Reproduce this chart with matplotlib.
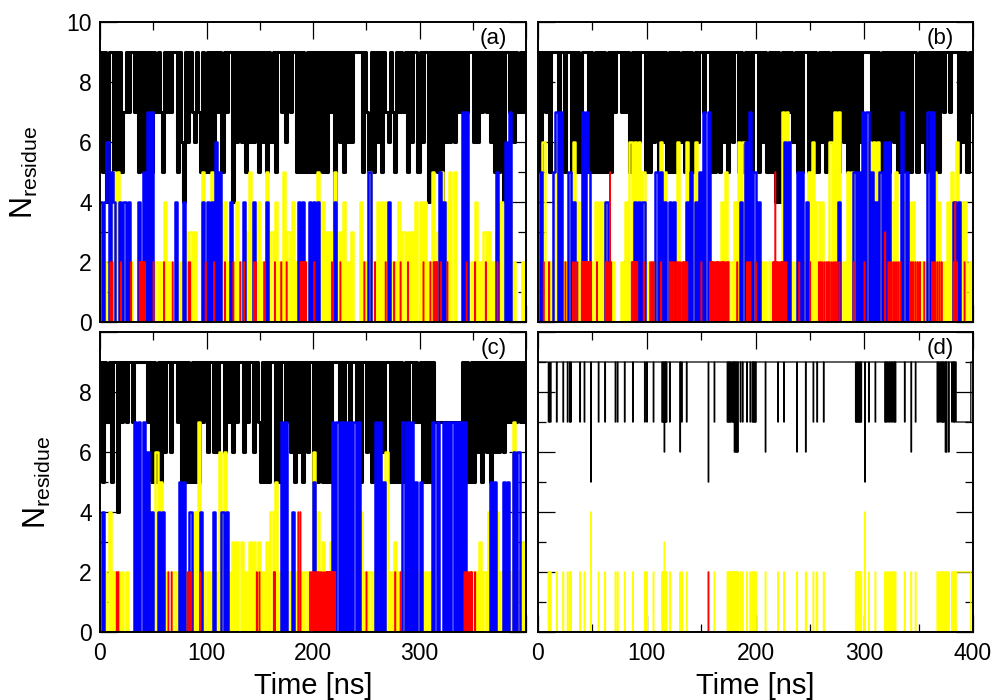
import numpy as np
import matplotlib
matplotlib.use('Agg')
import matplotlib.pyplot as plt
from matplotlib.ticker import MultipleLocator

plt.rcParams['font.family'] = ['Liberation Sans', 'DejaVu Sans']
plt.rcParams['mathtext.fontset'] = 'custom'
plt.rcParams['mathtext.rm'] = 'Liberation Sans'

# one character = one value every 2 ns (black, yellow, blue in panels a-c)
STEP = 2.0

a_black = ("9594995959 5797997959 5959597975 9797995964 9697697595 9595979597 9949696959 "
           "6969596959 6959979697 9959595959 5959595979 0969596969 9995975959 6959769759 "
           "7979596995 9699495959 4969696979 7979969697 9796959594 9979697979")
a_yellow = ("2020205050 2020200020 2020202020 4020002020 3030300050 2050204040 2020402030 "
            "5030402050 3040205030 4020202020 2050403030 5030402030 0040205020 4040402020 "
            "4030303040 4040205030 5040505000 0020204020 3030203040 2040200020")
a_blue = ("4046054004 0404000040 5070700000 0000040004 0000000040 4040605000 0400000400 "
          "0040000040 0000000000 0004040040 4040000000 4000000000 0000005000 0000040000 "
          "0000000000 0000000005 0400000000 7070000000 0000005000 6070000000")

b_black = ("9597959997 9959959595 9995959595 9595979979 7959596995 9596959695 9595969595 "
           "9596997995 9595969596 9959596959 9596959594 9494979695 9599595959 6959695959 "
           "6959595969 9995959595 9596959595 9599596959 5959597997 9995969597")
b_yellow = ("2060202060 2020206040 2020204040 4020200020 4060606050 2020206050 2020602060 "
            "2060402020 2020405020 4060602020 2020202020 2070702020 2020506040 4020607070 "
            "2050502020 2060606020 4040502040 4040202020 5050402040 5060404020")
b_blue = ("0500000570 7000504000 7075000000 0400000000 0000404040 0000505040 4040000040 "
          "5040507070 0000000000 0004060705 0400000000 0006060005 0504000000 0000000040 "
          "0000050507 0705040506 0600000705 0000000007 0700000000 0404000000")

c_black = ("9597959949 7979979999 9979595959 6996997959 5959595979 6996969969 7969799697 "
           "9969759595 9959599796 9596959699 5959595959 9979799799 7959969597 9696995959 "
           "5959799797 9595959777 7777777777 9595959695 9695969696 9797979797")
c_yellow = ("2020402020 2020000000 0050206050 2000202020 2020407020 2020206060 2030303020 "
            "3030302030 4050202020 2020202020 6040302030 0000000000 0040202020 2020602030 "
            "2020202020 2020202000 0000000000 0020202030 2040304020 2020702030")
c_blue = ("0400000000 0000007070 7060400404 0000000505 0040000400 0004000404 0000000000 "
          "0000000000 0000070700 4000000000 5000000007 0707070707 0700000007 0705000000 "
          "0070707050 5000007070 0707070707 0700000000 0005050005 0500606000")

# red is sparse everywhere: times (ns) of short jumps to 2, plus the few higher ones
a_red_t = [9.7, 11.4, 19.5, 29, 37, 38, 39, 40, 41, 42, 50, 60, 68, 83, 84.5, 99, 107, 117,
           125, 131.5, 135, 144.5, 146, 154, 164, 170, 175, 188, 189, 190, 191, 192, 193, 201,
           217.5, 225.6, 248, 258, 268, 276, 282, 289, 303.6, 310, 313, 314, 315.5, 316.5,
           320, 326, 344, 352, 362, 373]
a_red_high = []
b_red_t = [5, 10, 25, 32, 34, 36, 40, 41, 42, 43, 44, 45, 46, 47, 48, 54, 62, 63, 64, 67,
           86, 87, 88, 89, 90, 91, 97, 103, 104.5, 106, 113, 121, 122, 123.5, 125, 127, 128,
           129.5, 131, 133, 134, 135.5, 137, 150, 158, 159, 160, 161, 162.5, 164, 165, 166,
           167.5, 169, 170, 171, 172.5, 174, 175, 183, 192, 193.5, 195, 200, 216, 217, 219,
           220, 221.5, 223, 224, 225, 226.5, 228, 240, 250, 258, 259.5, 261, 263, 265, 266.5,
           268, 270, 272, 273.5, 275, 277, 290, 300, 322, 323.5, 325, 327, 329, 331, 333,
           342, 343.5, 345, 347, 349, 351, 355, 362, 363.5, 365, 367, 369, 371, 382, 385, 392]
b_red_high = [(66, 5), (218, 5), (319, 3), (383.5, 4)]
c_red_t = [15.6, 17, 64, 67, 82, 84, 85.5, 94, 147, 149.5, 163, 164, 197, 198.5, 200, 201,
           202.5, 204, 205, 206.5, 208, 210, 212, 213, 214, 215, 216, 217, 218, 219, 220.5,
           250, 277, 282, 342, 343.5, 345, 346.5, 348, 349, 352]
c_red_high = [(186, 4), (188, 4)]

# panel d is sparse: baseline values plus short excursions (time in ns, value)
d_black_base = 9
d_black_dips = [(9.5, 7), (10.2, 7), (11.0, 7), (11.6, 7), (17, 7), (23, 7), (27, 7), (29, 7),
                (30.2, 7), (38.6, 7), (42.6, 7), (48.5, 5), (55.5, 7), (61.6, 7), (70.8, 7),
                (73, 7), (79.4, 7), (87, 7), (97.8, 7), (100, 7), (106, 7), (114, 7), (115, 7),
                (116, 6), (117, 7), (118, 7), (121, 7), (130.6, 6), (132, 7), (136.7, 7),
                (156.7, 5), (162, 7), (174, 7), (175, 7), (176.2, 7), (177, 7), (178.3, 7),
                (179.5, 7), (180.5, 6), (181.5, 6), (182.5, 6), (183.6, 6), (186, 7), (188, 7),
                (192, 7), (195, 7), (197, 7), (198, 7), (199, 7), (200, 7), (209, 6),
                (220.7, 7), (226, 7), (238, 6), (246, 6), (253, 7), (256.6, 7), (262.7, 7),
                (292, 7), (293, 7), (294, 7), (295, 7), (296, 7), (297, 7), (300.4, 5),
                (304, 7), (310, 7), (319, 7), (320, 7), (321.5, 7), (323, 7), (324.5, 7),
                (326, 7), (327.5, 7), (328.6, 7), (337, 7), (343, 6), (347, 7), (367, 7),
                (368, 7), (369.5, 7), (371, 7), (372, 7), (373, 7), (374.6, 6), (375.6, 6),
                (377.6, 6), (380.7, 7), (382, 7), (383, 7), (384.4, 7)]
d_black_holds = [(385.0, 397.5, 7)]
d_yellow_base = 0
d_yellow_spikes = [(9.5, 2), (10.2, 2), (11.0, 2), (11.6, 2), (17, 2), (23, 2), (27, 2), (29, 2),
                   (30.2, 2), (38.6, 2), (42.6, 2), (48.5, 4), (55.5, 2), (61.6, 2), (70.8, 2),
                   (73, 2), (79.4, 2), (87, 2), (97.8, 2), (100, 2), (106, 2), (114, 2), (115, 2),
                   (116, 3), (117, 2), (118, 2), (121, 2), (130.6, 2), (132, 2), (136.7, 2),
                   (162, 2), (174, 2), (175, 2), (176.2, 2), (177, 2), (178.3, 2),
                   (179.5, 2), (180.5, 2), (181.5, 2), (182.5, 2), (183.6, 2), (186, 2), (188, 2),
                   (192, 2), (195, 2), (197, 2), (198, 2), (199, 2), (200, 2), (209, 2),
                   (220.7, 2), (226, 2), (238, 2), (246, 2), (253, 2), (256.6, 2), (262.7, 2),
                   (292, 2), (293, 2), (294, 2), (295, 2), (296, 2), (297, 2), (300.4, 4),
                   (304, 2), (310, 2), (319, 2), (320, 2), (321.5, 2), (323, 2), (324.5, 2),
                   (326, 2), (327.5, 2), (328.6, 2), (337, 2), (343, 2), (347, 2), (367, 2),
                   (368, 2), (369.5, 2), (371, 2), (372, 2), (373, 2), (374.6, 2), (375.6, 2),
                   (377.6, 2), (380.7, 2), (382, 2), (383, 2), (384.4, 2)]
d_yellow_holds = [(385.0, 397.5, 2)]
d_red_t = [156.7]
d_red_high = []

colors = ['black', '#ffff00', '#0000ff', '#ff0000']
dense_lw = [2.2, 1.8, 1.8, 1.0]
sparse_lw = [0.9, 1.0, 1.0, 1.0]


def from_string(s):
    v = np.array([int(ch) for ch in s.replace(' ', '')], dtype=float)
    t = np.arange(len(v) + 1) * STEP
    return t, np.append(v, v[-1])


t_d = np.arange(0, 400.01, 0.5)


def from_events(base, spikes, holds=()):
    v = np.full(t_d.size, float(base))
    for t0, t1, val in holds:
        v[(t_d >= t0) & (t_d <= t1)] = val
    for t0, val in spikes:
        v[int(round(t0 / 0.5))] = val
    return t_d, v


def red_series(times, high):
    return from_events(0, [(t, 2) for t in times] + list(high))


panels = {
    'a': [from_string(a_black), from_string(a_yellow), from_string(a_blue),
          red_series(a_red_t, a_red_high)],
    'b': [from_string(b_black), from_string(b_yellow), from_string(b_blue),
          red_series(b_red_t, b_red_high)],
    'c': [from_string(c_black), from_string(c_yellow), from_string(c_blue),
          red_series(c_red_t, c_red_high)],
    'd': [from_events(d_black_base, d_black_dips, d_black_holds),
          from_events(d_yellow_base, d_yellow_spikes, d_yellow_holds),
          None,
          red_series(d_red_t, d_red_high)],
}

W, H = 991, 700
rects = {'a': [100, 378, 426, 300], 'b': [538, 378, 435, 300],
         'c': [100, 68, 426, 300], 'd': [538, 68, 435, 300]}

fig = plt.figure(figsize=(W / 100, H / 100), dpi=100)

for key in ['a', 'b', 'c', 'd']:
    x0, y0, w, h = rects[key]
    ax = fig.add_axes([x0 / W, y0 / H, w / W, h / H])
    for z, (series, col) in enumerate(zip(panels[key], colors)):
        if series is None:
            continue
        t, v = series
        lw = sparse_lw[z] if key == 'd' else dense_lw[z]
        ax.plot(t, v, drawstyle='steps-post', color=col, lw=lw, zorder=2 + z * 0.1)

    ax.set_xlim(0, 400)
    ax.set_ylim(0, 10)
    ax.set_axisbelow(True)
    ax.xaxis.set_major_locator(MultipleLocator(100))
    ax.xaxis.set_minor_locator(MultipleLocator(50))
    ax.yaxis.set_major_locator(MultipleLocator(2))
    ax.yaxis.set_minor_locator(MultipleLocator(1))
    ax.tick_params(which='both', direction='in', top=True, right=True, width=0.9,
                   labelsize=16.5)
    ax.tick_params(which='major', length=12)
    ax.tick_params(which='minor', length=6)
    ax.tick_params(axis='y', pad=6)
    ax.tick_params(axis='x', pad=7)
    for sp in ax.spines.values():
        sp.set_linewidth(1.4)

    if key in ('a', 'b'):
        ax.set_xticklabels([])
    if key in ('b', 'd'):
        ax.set_yticklabels([])
    if key == 'c':
        ax.set_xticks([0, 100, 200, 300, 400])
        ax.set_xticklabels(['0', '100', '200', '300', ''])
        ax.set_yticks([0, 2, 4, 6, 8, 10])
        ax.set_yticklabels(['0', '2', '4', '6', '8', ''])
    if key in ('a', 'c'):
        ax.set_ylabel(r'N$_{\mathregular{residue}}$', fontsize=22, labelpad=19)
    if key in ('c', 'd'):
        ax.set_xlabel('Time [ns]', fontsize=21, labelpad=5)

    ax.text(0.955, 0.945, '(%s)' % key, transform=ax.transAxes, ha='right', va='center',
            fontsize=16, zorder=5)

fig.savefig('out.png', dpi=100)
